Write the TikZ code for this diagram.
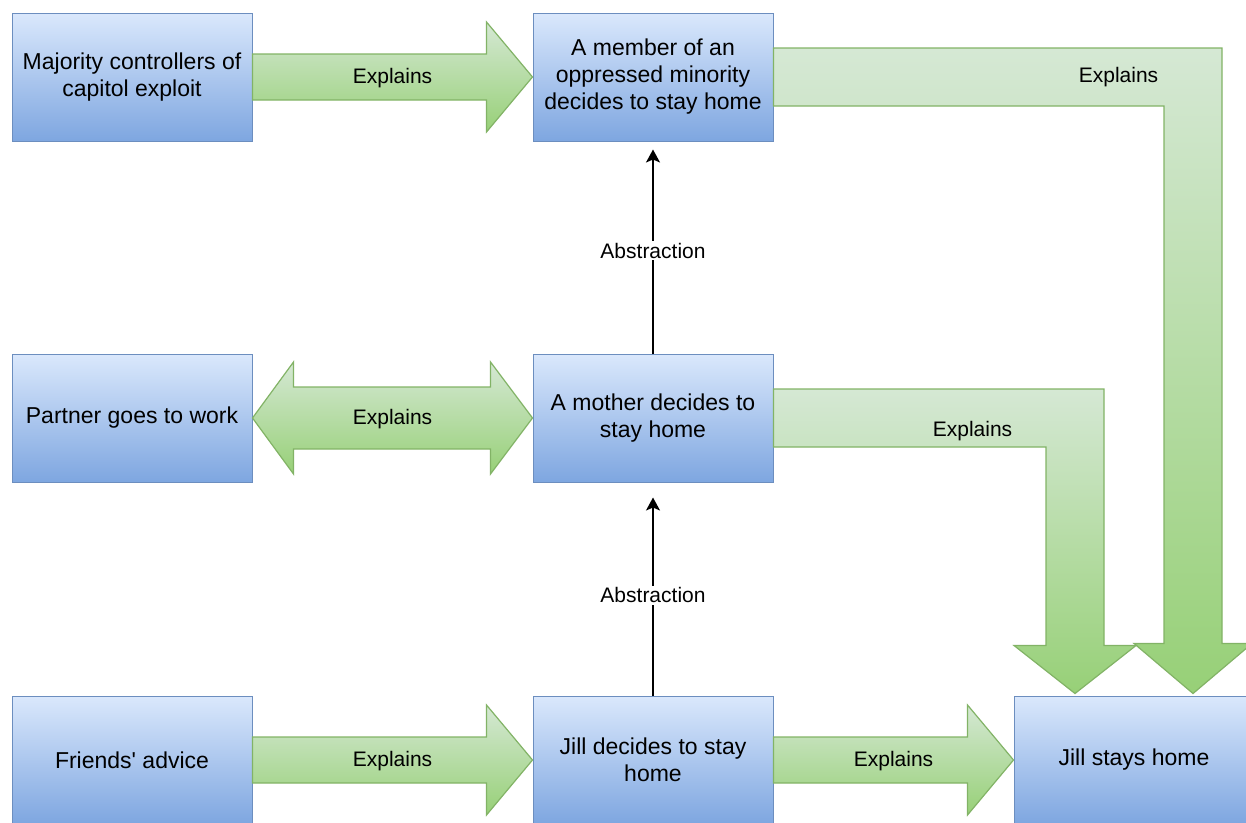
\documentclass[tikz,border=0pt]{standalone}
\usepackage{fontspec}
\setmainfont{Liberation Sans}
\usetikzlibrary{calc,arrows.meta}
\definecolor{boxtop}{HTML}{DAE8FC}
\definecolor{boxbot}{HTML}{7EA6E0}
\definecolor{boxline}{HTML}{6C8EBF}
\definecolor{fattop}{HTML}{D5E8D4}
\definecolor{fatbot}{HTML}{97D077}
\definecolor{fatline}{HTML}{82B366}
\tikzset{
    box/.style={draw=boxline, line width=1pt, top color=boxtop, bottom color=boxbot,
        minimum width=240pt, minimum height=128pt, inner sep=0pt, align=center,
        font=\fontsize{23}{27}\selectfont},
    fat/.style={draw=fatline, line width=1.2pt, top color=fattop, bottom color=fatbot},
    lbl/.style={font=\fontsize{21}{25}\selectfont, inner sep=2pt},
    abstr/.style={line width=1.5pt, -{Stealth[length=13pt, width=14pt, inset=3pt]}},
}
\begin{document}
\begin{tikzpicture}[x=1pt, y=-1pt]
    \clip (0,0) rectangle (1246,822);
    % Boxes
    \node[box] (maj) at (132,77) {Majority controllers of\\capitol exploit};
    \node[box] (mem) at (653,77) {A member of an\\oppressed minority\\decides to stay home};
    \node[box] (part) at (132,418) {Partner goes to work};
    \node[box] (mot) at (653,418) {A mother decides to\\stay home};
    \node[box] (fri) at (132,760) {Friends\textquotesingle\ advice};
    \node[box] (jd) at (653,760) {Jill decides to stay\\home};
    \node[box] (js) at (1134,760) {Jill stays home};
    % Explains arrows, one head
    \foreach \a/\b in {maj/mem, fri/jd, jd/js}{
        \draw[fat] ($(\a.east)+(0,-23)$) -- ($(\b.west)+(-46,-23)$) -- ($(\b.west)+(-46,-55)$)
            -- (\b.west) -- ($(\b.west)+(-46,55)$) -- ($(\b.west)+(-46,23)$)
            -- ($(\a.east)+(0,23)$) -- cycle;
        \node[lbl] (lbl-\a) at ($(\a.east)!0.5!(\b.west)+(0,1)$) {Explains};
    }
    % Explains arrow, two heads
    \draw[fat] (part.east) -- ($(part.east)+(41,-56)$) -- ($(part.east)+(41,-31)$)
        -- ($(mot.west)+(-42,-31)$) -- ($(mot.west)+(-42,-56)$) -- (mot.west)
        -- ($(mot.west)+(-42,56)$) -- ($(mot.west)+(-42,31)$)
        -- ($(part.east)+(41,31)$) -- ($(part.east)+(41,56)$) -- cycle;
    \node[lbl] (lbl-part) at ($(part.east)!0.5!(mot.west)+(0,1)$) {Explains};
    % Explains arrows, bent down into Jill stays home
    \coordinate (t1) at ($(js.north)+(59,-2)$);
    \coordinate (t2) at ($(js.north)+(-59,-2)$);
    \draw[fat] ($(mem.east)+(0,-29)$) -| ($(t1)+(29,-50)$) -- ($(t1)+(59,-50)$) -- (t1)
        -- ($(t1)+(-59,-50)$) -- ($(t1)+(-29,-50)$) |- ($(mem.east)+(0,29)$) -- cycle;
    \draw[fat] ($(mot.east)+(0,-29)$) -| ($(t2)+(29,-48)$) -- ($(t2)+(61,-48)$) -- (t2)
        -- ($(t2)+(-61,-48)$) -- ($(t2)+(-29,-48)$) |- ($(mot.east)+(0,29)$) -- cycle;
    \node[lbl] (lbl-mem) at ($(mem.east)+(345,0)$) {Explains};
    \node[lbl] (lbl-mot) at ($(mot.east)+(199,13)$) {Explains};
    % Abstraction
    \draw[abstr, shorten >=8pt] (mot.north) -- (mem.south)
        node[lbl, pos=0.485, fill=white] {Abstraction};
    \draw[abstr, shorten >=15pt] (jd.north) -- (mot.south)
        node[lbl, pos=0.47, fill=white] {Abstraction};
\end{tikzpicture}
\end{document}
